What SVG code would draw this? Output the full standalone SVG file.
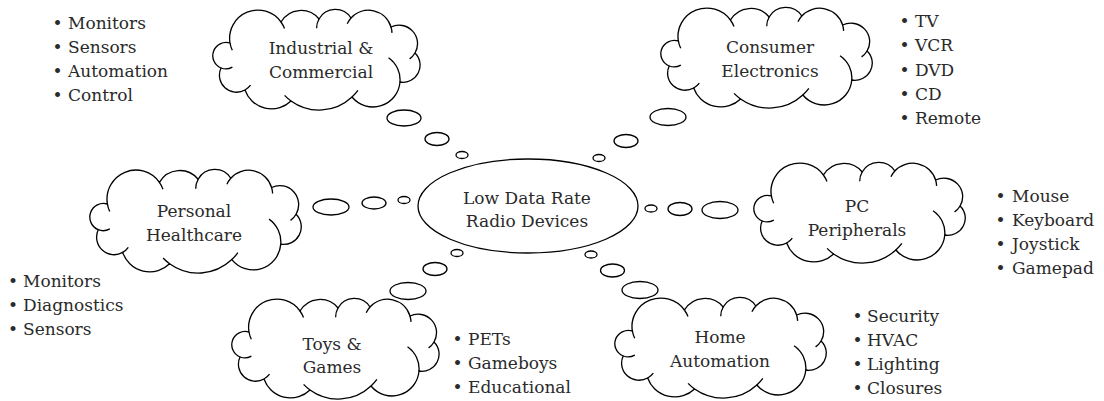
<svg xmlns="http://www.w3.org/2000/svg" width="1104" height="401" viewBox="0 0 1104 401">
<defs>
<style>
.c{fill:#fff;stroke:#000;stroke-width:1.3}
.k{fill:none;stroke:#000;stroke-width:1.3}
.b{fill:#fff;stroke:#000;stroke-width:1.3}
.t{font-family:"DejaVu Serif","Liberation Serif",serif;font-size:17px;fill:#2a2a2a;text-anchor:middle}
.l{font-family:"DejaVu Serif","Liberation Serif",serif;font-size:17px;fill:#2a2a2a}
</style>
<g id="cloud">
<path class="c" d="M19 33 A28.3 28.3 0 0 1 70 12 A23.2 23.2 0 0 1 108 9 A18.7 18.7 0 0 1 140 8 A23.5 23.5 0 0 1 180 17 A18.5 18.5 0 0 1 204 43 A17.1 17.1 0 0 1 189 72 A27.1 27.1 0 0 1 141 87 A48 48 0 0 1 80 91 A28 28 0 0 1 34 80 A17.1 17.1 0 0 1 10 58 A13.3 13.3 0 0 1 19 33 Z"/>
<path class="k" d="M19 33 A28.3 28.3 0 0 0 21.3 40.3 M70 12 A28.3 28.3 0 0 1 73.5 18.6 M108 9 A18.7 18.7 0 0 0 105.6 18.2 M140 8 A23.5 23.5 0 0 0 136.2 13.8 M180 17 A23.5 23.5 0 0 1 181 22.9 M204 43 A18.5 18.5 0 0 1 198.6 48.9 M189 72 A27.1 27.1 0 0 0 177.5 47.7 M141 87 A48 48 0 0 0 146.9 80.3 M80 91 A48 48 0 0 1 73.6 85.4 M34 80 A17.1 17.1 0 0 0 39.5 75.1 M10 58 A13.3 13.3 0 0 0 21.4 57.1"/>
</g>
</defs>
<rect width="1104" height="401" fill="#fff"/>

<g id="connectors">
<ellipse class="b" cx="404" cy="118" rx="17" ry="8"/>
<ellipse class="b" cx="437" cy="139" rx="12" ry="6.5"/>
<ellipse class="b" cx="462" cy="155" rx="6" ry="3.5"/>
<ellipse class="b" cx="668" cy="117" rx="18" ry="8.5"/>
<ellipse class="b" cx="626" cy="141" rx="12" ry="6.5"/>
<ellipse class="b" cx="599" cy="158" rx="6" ry="3.5"/>
<ellipse class="b" cx="331" cy="207" rx="18" ry="8"/>
<ellipse class="b" cx="374" cy="203" rx="12" ry="6"/>
<ellipse class="b" cx="404" cy="200" rx="6" ry="3.5"/>
<ellipse class="b" cx="651" cy="208.5" rx="6" ry="3.5"/>
<ellipse class="b" cx="680" cy="209" rx="12" ry="6.5"/>
<ellipse class="b" cx="720" cy="210" rx="18" ry="8.5"/>
<ellipse class="b" cx="457" cy="253" rx="6" ry="3.5"/>
<ellipse class="b" cx="435" cy="269" rx="12" ry="6.5"/>
<ellipse class="b" cx="408" cy="291" rx="18" ry="8.5"/>
<ellipse class="b" cx="591" cy="254.5" rx="6" ry="3.5"/>
<ellipse class="b" cx="612.5" cy="270.5" rx="12" ry="6.5"/>
<ellipse class="b" cx="640" cy="290" rx="18" ry="8.5"/>
</g>

<g id="center">
<ellipse class="b" cx="528" cy="206" rx="110" ry="47"/>
<text class="t" x="527" y="204">Low Data Rate</text>
<text class="t" x="527" y="227">Radio Devices</text>
</g>

<g id="industrial">
<use href="#cloud" transform="translate(211,10)"/>
<text class="t" x="321" y="54">Industrial &amp;</text>
<text class="t" x="321" y="78">Commercial</text>
</g>
<g id="industrial-list">
<text class="l" y="29"><tspan x="52.5">•</tspan><tspan x="68">Monitors</tspan></text>
<text class="l" y="53"><tspan x="52.5">•</tspan><tspan x="68">Sensors</tspan></text>
<text class="l" y="77"><tspan x="52.5">•</tspan><tspan x="68">Automation</tspan></text>
<text class="l" y="101"><tspan x="52.5">•</tspan><tspan x="68">Control</tspan></text>
</g>

<g id="consumer">
<use href="#cloud" transform="translate(659,8) scale(1.02,1)"/>
<text class="t" x="770" y="53">Consumer</text>
<text class="t" x="770" y="77">Electronics</text>
</g>
<g id="consumer-list">
<text class="l" y="27"><tspan x="899.5">•</tspan><tspan x="915">TV</tspan></text>
<text class="l" y="51"><tspan x="899.5">•</tspan><tspan x="915">VCR</tspan></text>
<text class="l" y="76"><tspan x="899.5">•</tspan><tspan x="915">DVD</tspan></text>
<text class="l" y="100"><tspan x="899.5">•</tspan><tspan x="915">CD</tspan></text>
<text class="l" y="124"><tspan x="899.5">•</tspan><tspan x="915">Remote</tspan></text>
</g>

<g id="healthcare">
<use href="#cloud" transform="translate(88,170) scale(1.02,1.03)"/>
<text class="t" x="194" y="217">Personal</text>
<text class="t" x="194" y="241">Healthcare</text>
</g>
<g id="healthcare-list">
<text class="l" y="287"><tspan x="8">•</tspan><tspan x="23">Monitors</tspan></text>
<text class="l" y="311"><tspan x="8">•</tspan><tspan x="23">Diagnostics</tspan></text>
<text class="l" y="335"><tspan x="8">•</tspan><tspan x="23">Sensors</tspan></text>
</g>

<g id="pc">
<use href="#cloud" transform="translate(752,163) scale(1.02,1)"/>
<text class="t" x="857" y="212">PC</text>
<text class="t" x="857" y="236">Peripherals</text>
</g>
<g id="pc-list">
<text class="l" y="202"><tspan x="995.5">•</tspan><tspan x="1012">Mouse</tspan></text>
<text class="l" y="226"><tspan x="995.5">•</tspan><tspan x="1012">Keyboard</tspan></text>
<text class="l" y="250"><tspan x="995.5">•</tspan><tspan x="1012">Joystick</tspan></text>
<text class="l" y="274"><tspan x="995.5">•</tspan><tspan x="1012">Gamepad</tspan></text>
</g>

<g id="toys">
<use href="#cloud" transform="translate(230,299)"/>
<text class="t" x="332" y="350">Toys &amp;</text>
<text class="t" x="332" y="373">Games</text>
</g>
<g id="toys-list">
<text class="l" y="345"><tspan x="452.5">•</tspan><tspan x="468">PETs</tspan></text>
<text class="l" y="369"><tspan x="452.5">•</tspan><tspan x="468">Gameboys</tspan></text>
<text class="l" y="393"><tspan x="452.5">•</tspan><tspan x="468">Educational</tspan></text>
</g>

<g id="home">
<use href="#cloud" transform="translate(613,298) scale(1.02,1)"/>
<text class="t" x="720" y="343">Home</text>
<text class="t" x="720" y="367">Automation</text>
</g>
<g id="home-list">
<text class="l" y="322"><tspan x="852.5">•</tspan><tspan x="867">Security</tspan></text>
<text class="l" y="346"><tspan x="852.5">•</tspan><tspan x="867">HVAC</tspan></text>
<text class="l" y="370"><tspan x="852.5">•</tspan><tspan x="867">Lighting</tspan></text>
<text class="l" y="394"><tspan x="852.5">•</tspan><tspan x="867">Closures</tspan></text>
</g>
</svg>
